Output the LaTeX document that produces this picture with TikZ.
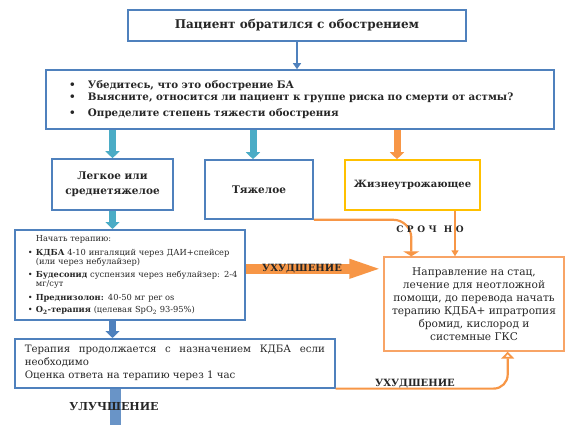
\documentclass[tikz,border=0pt]{standalone}
\usepackage{fontspec}
\setmainfont{DejaVu Serif}
\usepackage{xcolor}
\usepackage{tikz}
\usetikzlibrary{arrows.meta, calc}

\definecolor{boxblue}{HTML}{4F81BD}
\definecolor{teal1}{HTML}{4BACC6}
\definecolor{orange1}{HTML}{F79646}
\definecolor{gold1}{HTML}{FFC000}
\definecolor{orbox}{HTML}{F8A466}
\definecolor{txt}{HTML}{262626}

\begin{document}
\begin{tikzpicture}[x=1pt, y=-1pt, line width=1pt,
    fcbox/.style={draw, line width=1.6pt, inner sep=0pt, text=txt, align=center},
    bluebox/.style={fcbox, draw=boxblue},
    fatarrow/.style={line width=7pt, -{Triangle[width=14pt, length=7pt]}},
    orline/.style={draw=orange1, line width=2.2pt},
    lbl/.style={font=\bfseries\fontsize{10}{12}\selectfont, text=txt, inner sep=0pt}]
        \useasboundingbox (0,0) rectangle (576,425);

        % 开始
        \node[bluebox, minimum width=338pt, minimum height=31pt, font=\bfseries\fontsize{12}{14}\selectfont] (start) at (297,25.5) {Пациент обратился с обострением};

        % 检查
        \node[bluebox, minimum width=508pt, minimum height=59pt, text width=472pt, inner xsep=18pt, align=left, font=\bfseries\fontsize{10.3}{12.5}\selectfont] (check) at (300,99.5)
            {\hspace*{5pt}\makebox[19pt][l]{•}Убедитесь, что это обострение БА\\
             \hspace*{5pt}\makebox[19pt][l]{•}Выясните, относится ли пациент к группе риска по смерти от астмы?\\[3.5pt]
             \hspace*{5pt}\makebox[19pt][l]{•}Определите степень тяжести обострения};

        % 严重程度
        \node[bluebox, minimum width=121pt, minimum height=51pt, font=\bfseries\fontsize{10.5}{15}\selectfont] (mild) at (112.5,184.5) {Легкое или\\среднетяжелое};
        \node[bluebox, minimum width=108pt, minimum height=59pt, font=\bfseries\fontsize{10.5}{15}\selectfont] (severe) at (259,189.5) {Тяжелое};
        \node[fcbox, draw=gold1, minimum width=135pt, minimum height=50pt, font=\bfseries\fontsize{10}{15}\selectfont] (life) at (412.5,185) {Жизнеутрожающее};

        % 治疗
        \node[bluebox, anchor=north west, minimum width=230pt, minimum height=90pt, text width=220pt, inner xsep=5pt, align=left, font=\fontsize{8.3}{9}\selectfont] (therapy) at (14,229)
            {\hspace*{16pt}Начать терапию:\\[5pt]
             \hspace*{8pt}\makebox[8pt][l]{•}\textbf{КДБА} 4-10 ингаляций через ДАИ+спейсер\\
             \hspace*{16pt}(или через небулайзер)\\[4pt]
             \hspace*{8pt}\makebox[8pt][l]{•}\textbf{Будесонид} суспензия через небулайзер: 2-4\\
             \hspace*{16pt}мг/сут\\[5pt]
             \hspace*{8pt}\makebox[8pt][l]{•}\textbf{Преднизолон:} 40-50 мг per os\\[3pt]
             \hspace*{8pt}\makebox[8pt][l]{•}\textbf{O\textsubscript{2}-терапия} (целевая SpO\textsubscript{2} 93-95\%)};

        % 住院
        \node[fcbox, draw=orbox, line width=1.4pt, minimum width=180pt, minimum height=94pt, font=\fontsize{10.6}{13}\selectfont] (hosp) at (474,304)
            {Направление на стац,\\лечение для неотложной\\помощи, до перевода начать\\терапию КДБА+ ипратропия\\бромид, кислород и\\системные ГКС};

        % 继续
        \node[bluebox, anchor=north west, minimum width=320pt, minimum height=49pt, text width=300pt, inner xsep=10pt, align=justify, font=\fontsize{10.2}{13}\selectfont] (cont) at (14,338)
            {Терапия продолжается с назначением КДБА если необходимо\\Оценка ответа на терапию через 1 час};

        % 箭头
        \draw[boxblue, line width=1.2pt, -{Triangle[width=8pt, length=6pt]}] (start.south) -- (start.south |- check.north);
        \draw[fatarrow, teal1] (mild.north |- check.south) -- (mild.north);
        \coordinate (s1) at ($(severe.north)+(-6,0)$);
        \draw[fatarrow, teal1] (s1 |- check.south) -- (s1);
        \coordinate (l1) at ($(life.north)+(-15.5,0)$);
        \draw[fatarrow, orange1] (l1 |- check.south) -- (l1);
        \draw[fatarrow, teal1] (mild.south) -- (mild.south |- therapy.north);
        \draw[fatarrow, boxblue] (mild.south |- therapy.south) -- (mild.south |- cont.north);

        % 改善
        \coordinate (bot) at (115,425);
        \draw[boxblue!85!white, line width=11pt] (cont.south -| bot) -- (bot);
        \node[lbl, font=\bfseries\fontsize{11}{13}\selectfont] (better) at (114,407) {УЛУЧШЕНИЕ};

        % 恶化
        \coordinate (w1) at ($(therapy.east)+(0,-6)$);
        \draw[orange1, line width=10pt, -{Triangle[width=17pt, length=34pt]}] (w1) -- (w1 -| hosp.west) node[lbl, pos=0.41] (worse1) {УХУДШЕНИЕ};
        \coordinate (b2) at ($(hosp.south east)+(-57,0)$);
        \draw[orline, rounded corners=14pt, -{Triangle[open, fill=white, width=13pt, length=7pt]}] (cont.south east) -- (cont.south east -| b2) -- (b2);
        \node[lbl] (worse2) at (415,384) {УХУДШЕНИЕ};

        % 紧急
        \coordinate (t2) at ($(hosp.north west)+(28,0)$);
        \draw[orline, rounded corners=18pt, -{Triangle[width=16pt, length=5pt]}] (severe.south east) -- (severe.south east -| t2) -- (t2);
        \coordinate (z1) at ($(life.south)+(42.5,0)$);
        \draw[orline, -{Triangle[width=7pt, length=6pt]}] (z1) -- (z1 |- hosp.north);
        \node[lbl, font=\bfseries\fontsize{9}{11}\selectfont] (urgent) at (430,229) {С\hspace{3.5pt}Р\hspace{3.5pt}О\hspace{3.5pt}Ч\hspace{7pt}Н\hspace{3.5pt}О};
    \end{tikzpicture}
\end{document}
